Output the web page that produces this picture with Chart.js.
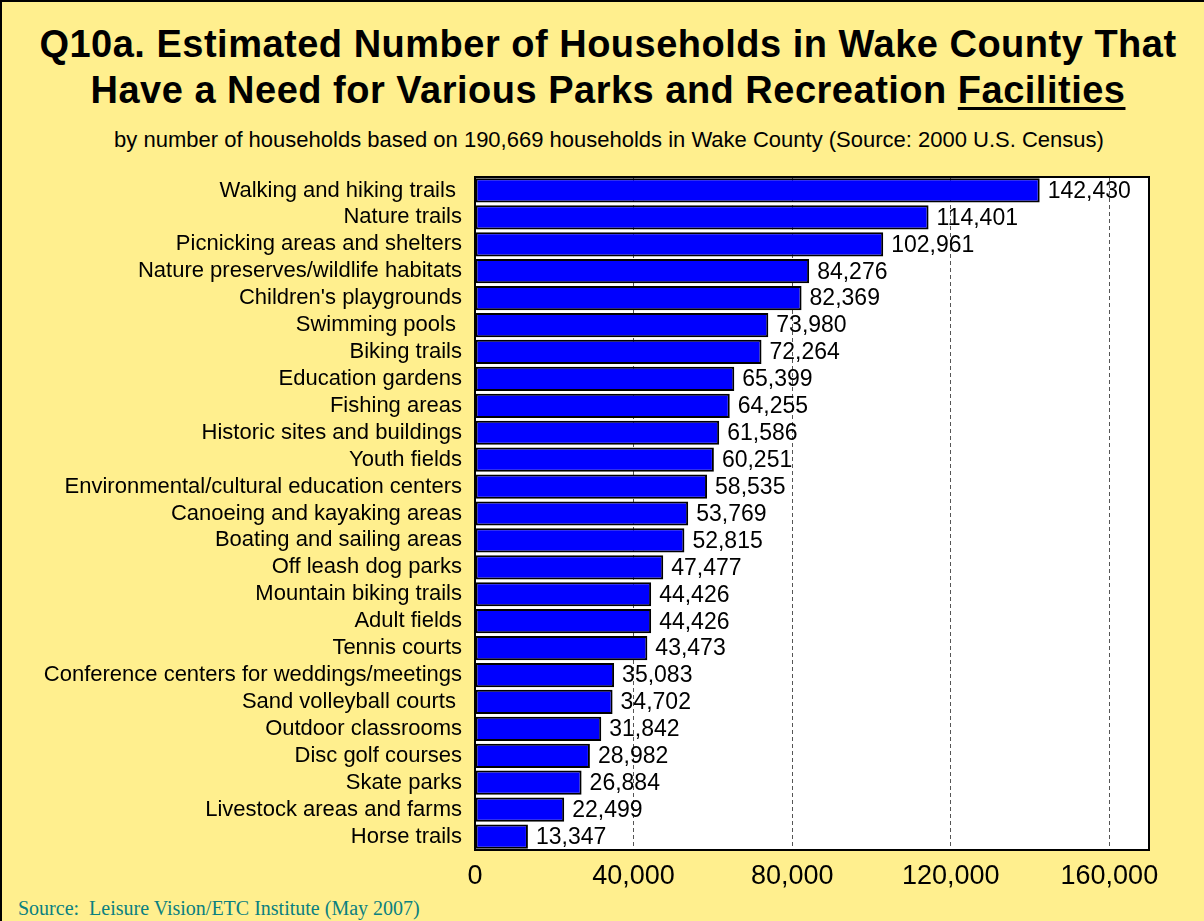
<!DOCTYPE html>
<html>
<head>
<meta charset="utf-8">
<script src="https://cdn.jsdelivr.net/npm/chart.js@4/dist/chart.umd.min.js"></script>
<style>
  html, body { margin: 0; padding: 0; }
  body { width: 1204px; height: 921px; background: #FFEF8E; position: relative; overflow: hidden; font-family: "Liberation Sans", Arial, sans-serif; }
  #frame { position: absolute; left: 0; top: 0; width: 1204px; height: 921px; box-sizing: border-box; border-top: 2px solid #000; border-left: 2px solid #000; pointer-events: none; }
  #title { position: absolute; left: 12px; top: 21px; width: 1192px; text-align: center; font-weight: bold; font-size: 38px; letter-spacing: 0.5px; line-height: 46px; color: #000; }
  #title u { text-decoration-thickness: 3px; text-underline-offset: 4px; }
  #subtitle { position: absolute; left: 14px; top: 127px; width: 1190px; text-align: center; font-size: 22px; color: #000; }
  #source { position: absolute; left: 18px; top: 897px; font-family: "Liberation Serif", "Times New Roman", serif; font-size: 20px; color: #0A8080; white-space: nowrap; }
  canvas { position: absolute; left: 0; top: 0; }
</style>
</head>
<body>
<div id="title">Q10a. Estimated Number of Households in Wake County That<br>Have a Need for Various Parks and Recreation <u>Facilities</u></div>
<div id="subtitle">by number of households based on 190,669 households in Wake County (Source: 2000 U.S. Census)</div>
<div id="source">Source:&nbsp; Leisure Vision/ETC Institute (May 2007)</div>
<canvas id="chart" width="1204" height="921"></canvas>
<div id="frame"></div>
<script>
// Facility categories, top to bottom
const facilities = [
  "Walking and hiking trails ",
  "Nature trails",
  "Picnicking areas and shelters",
  "Nature preserves/wildlife habitats",
  "Children's playgrounds",
  "Swimming pools ",
  "Biking trails",
  "Education gardens",
  "Fishing areas",
  "Historic sites and buildings",
  "Youth fields",
  "Environmental/cultural education centers",
  "Canoeing and kayaking areas",
  "Boating and sailing areas",
  "Off leash dog parks",
  "Mountain biking trails",
  "Adult fields",
  "Tennis courts",
  "Conference centers for weddings/meetings",
  "Sand volleyball courts ",
  "Outdoor classrooms",
  "Disc golf courses",
  "Skate parks",
  "Livestock areas and farms",
  "Horse trails"
];

// Households with a need for each facility
const households = [
  142430, 114401, 102961, 84276, 82369, 73980, 72264, 65399, 64255, 61586,
  60251, 58535, 53769, 52815, 47477, 44426, 44426, 43473, 35083, 34702,
  31842, 28982, 26884, 22499, 13347
];

// Horizontal axis ticks
const axisTicks = [0, 40000, 80000, 120000, 160000];
const axisMax = 170000;

const fmt = v => v.toLocaleString('en-US');

// White plot background and black frame around the plot area
const plotFrame = {
  id: 'plotFrame',
  beforeDraw(chart) {
    const { ctx, chartArea: a } = chart;
    ctx.save();
    ctx.fillStyle = '#FFFFFF';
    ctx.fillRect(a.left, a.top, a.right - a.left, a.bottom - a.top);
    ctx.restore();
  },
  afterDraw(chart) {
    const { ctx, chartArea: a } = chart;
    ctx.save();
    ctx.strokeStyle = '#000';
    ctx.lineWidth = 2;
    ctx.strokeRect(a.left, a.top, a.right - a.left, a.bottom - a.top);
    ctx.restore();
  }
};

// Value labels just past the end of each bar
const valueLabels = {
  id: 'valueLabels',
  afterDatasetsDraw(chart) {
    const { ctx } = chart;
    const meta = chart.getDatasetMeta(0);
    const xScale = chart.scales.x;
    ctx.save();
    ctx.font = '23px "Liberation Sans", Arial, sans-serif';
    ctx.fillStyle = '#000';
    ctx.textAlign = 'left';
    ctx.textBaseline = 'middle';
    meta.data.forEach((bar, i) => {
      const v = chart.data.datasets[0].data[i];
      ctx.fillText(fmt(v), xScale.getPixelForValue(v) + 8, bar.y + 1);
    });
    ctx.restore();
  }
};

new Chart(document.getElementById('chart'), {
  type: 'bar',
  data: {
    labels: facilities,
    datasets: [{
      data: households,
      backgroundColor: '#0000FF',
      borderColor: '#000000',
      borderWidth: 2,
      borderSkipped: false,
      barPercentage: 0.9,
      categoryPercentage: 1.0
    }]
  },
  options: {
    indexAxis: 'y',
    responsive: false,
    animation: false,
    layout: { padding: { top: 177, right: 55, left: 0, bottom: 0 } },
    plugins: {
      legend: { display: false },
      tooltip: { enabled: false },
      title: { display: false }
    },
    scales: {
      x: {
        min: 0,
        max: axisMax,
        afterBuildTicks(scale) {
          scale.ticks = axisTicks.map(v => ({ value: v }));
        },
        afterFit(scale) { scale.height = 71; },
        border: { display: false, dash: [4, 3] },
        grid: {
          color: ctx => ctx.tick && ctx.tick.value === 0 ? 'rgba(0,0,0,0)' : '#555555',
          lineWidth: 1,
          drawTicks: false
        },
        ticks: {
          color: '#000',
          padding: 10,
          maxRotation: 0,
          font: { family: '"Liberation Sans", Arial, sans-serif', size: 27 },
          callback: v => fmt(v)
        }
      },
      y: {
        afterFit(scale) { scale.width = 475; },
        border: { display: false },
        grid: { display: false, drawTicks: false },
        ticks: {
          color: '#000',
          padding: 13,
          autoSkip: false,
          font: { family: '"Liberation Sans", Arial, sans-serif', size: 22 }
        }
      }
    }
  },
  plugins: [plotFrame, valueLabels]
});
</script>
</body>
</html>
